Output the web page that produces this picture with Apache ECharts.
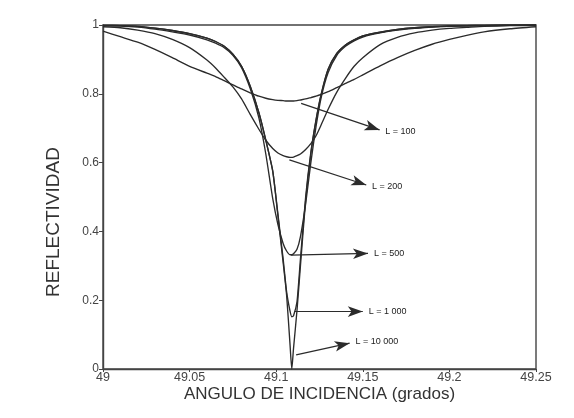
<!DOCTYPE html>
<html>
<head>
<meta charset="utf-8">
<script src="https://cdn.jsdelivr.net/npm/echarts@6/dist/echarts.min.js"></script>
<style>
html,body{margin:0;padding:0;background:#fff;}
#chart{width:574px;height:418px;}
</style>
</head>
<body>
<div id="chart"></div>
<script>
// Incidence angle (degrees) shared by all curves
const angles = [49.000, 49.010, 49.020, 49.030, 49.040, 49.050, 49.060, 49.065, 49.070, 49.075,
  49.080, 49.085, 49.090, 49.094, 49.098, 49.101, 49.104, 49.106, 49.108, 49.109,
  49.110, 49.112, 49.114, 49.117, 49.120, 49.123, 49.126, 49.130, 49.135, 49.140,
  49.145, 49.150, 49.160, 49.170, 49.180, 49.190, 49.200, 49.210, 49.220, 49.235, 49.250];

const reflL100 = [0.982, 0.966, 0.950, 0.929, 0.905, 0.880, 0.860, 0.850, 0.838, 0.826,
  0.814, 0.803, 0.793, 0.787, 0.783, 0.781, 0.780, 0.779, 0.779, 0.779,
  0.779, 0.780, 0.782, 0.785, 0.789, 0.793, 0.798, 0.806, 0.818, 0.830,
  0.842, 0.855, 0.881, 0.905, 0.926, 0.944, 0.958, 0.970, 0.980, 0.989, 0.995];

const reflL200 = [0.995, 0.992, 0.985, 0.975, 0.958, 0.934, 0.898, 0.875, 0.848, 0.820,
  0.785, 0.740, 0.697, 0.665, 0.641, 0.628, 0.620, 0.617, 0.615, 0.615,
  0.616, 0.620, 0.625, 0.638, 0.655, 0.678, 0.710, 0.755, 0.805, 0.845,
  0.880, 0.905, 0.943, 0.964, 0.977, 0.985, 0.990, 0.993, 0.996, 0.998, 0.999];

const reflL500 = [0.998, 0.997, 0.994, 0.988, 0.980, 0.971, 0.957, 0.947, 0.934, 0.912,
  0.876, 0.815, 0.730, 0.625, 0.495, 0.420, 0.365, 0.343, 0.332, 0.332,
  0.335, 0.348, 0.385, 0.480, 0.600, 0.705, 0.790, 0.862, 0.912, 0.938,
  0.954, 0.965, 0.977, 0.985, 0.990, 0.994, 0.996, 0.997, 0.998, 0.999, 1.000];

const reflL1000 = [0.999, 0.998, 0.996, 0.991, 0.984, 0.975, 0.962, 0.952, 0.938, 0.915,
  0.880, 0.822, 0.745, 0.665, 0.575, 0.450, 0.320, 0.225, 0.168, 0.152,
  0.155, 0.195, 0.320, 0.500, 0.630, 0.725, 0.800, 0.872, 0.918, 0.942,
  0.957, 0.968, 0.979, 0.987, 0.992, 0.995, 0.997, 0.998, 0.999, 1.000, 1.000];

const reflL10000 = [0.999, 0.998, 0.996, 0.991, 0.984, 0.975, 0.962, 0.952, 0.938, 0.915,
  0.880, 0.822, 0.745, 0.665, 0.575, 0.445, 0.310, 0.215, 0.070, 0.000,
  0.060, 0.170, 0.300, 0.490, 0.625, 0.722, 0.798, 0.871, 0.917, 0.942,
  0.957, 0.968, 0.979, 0.987, 0.992, 0.995, 0.997, 0.998, 0.999, 1.000, 1.000];

const curveLabels = ['L = 100', 'L = 200', 'L = 500', 'L = 1 000', 'L = 10 000'];
// Annotation arrows: start point on the curve and arrow tip (data units)
const arrowStart = [[49.1144, 0.772], [49.1076, 0.608], [49.1086, 0.331], [49.1105, 0.167], [49.1115, 0.041]];
const arrowEnd   = [[49.1597, 0.695], [49.1520, 0.535], [49.1530, 0.336], [49.1500, 0.167], [49.1424, 0.075]];

const xTicks = [49, 49.05, 49.1, 49.15, 49.2, 49.25];
const yTicks = [0, 0.2, 0.4, 0.6, 0.8, 1];

const seriesValues = [reflL100, reflL200, reflL500, reflL1000, reflL10000];
const ink = '#2b2b2b';
const FONT = '"Liberation Sans", Arial, sans-serif';

const chart = echarts.init(document.getElementById('chart'), null, {renderer: 'canvas'});

const series = seriesValues.map((vals, i) => ({
  type: 'line',
  name: curveLabels[i],
  data: angles.map((a, k) => [a, vals[k]]),
  showSymbol: false,
  smooth: 0.2,
  lineStyle: {color: ink, width: 1.35},
  itemStyle: {color: ink},
  animation: false,
  z: 2,
  markLine: {
    silent: true,
    animation: false,
    symbol: ['none', 'arrow'],
    symbolSize: [8, 15],
    lineStyle: {color: ink, width: 1.2, type: 'solid'},
    itemStyle: {color: ink},
    label: {
      show: true,
      position: 'end',
      distance: 6,
      formatter: curveLabels[i],
      color: '#222',
      fontSize: 9,
      fontFamily: FONT
    },
    data: [[{coord: arrowStart[i]}, {coord: arrowEnd[i]}]]
  }
}));

chart.setOption({
  backgroundColor: '#ffffff',
  animation: false,
  grid: {left: 103, right: 38, top: 25, bottom: 49, show: true, borderColor: '#444', borderWidth: 1.4, backgroundColor: 'transparent'},
  xAxis: {
    type: 'value',
    min: xTicks[0],
    max: xTicks[xTicks.length - 1],
    interval: 0.05,
    name: 'ANGULO DE INCIDENCIA (grados)',
    nameLocation: 'middle',
    nameGap: 17,
    nameMoveOverlap: false,
    nameTextStyle: {fontSize: 17, color: '#333', fontFamily: FONT},
    axisLine: {show: true, lineStyle: {color: '#444', width: 1.4}},
    axisTick: {show: true, length: 3, lineStyle: {color: '#444'}},
    axisLabel: {margin: 2, fontSize: 12.5, color: '#444', fontFamily: FONT,
      formatter: v => String(Math.round(v * 100) / 100)},
    splitLine: {show: false}
  },
  yAxis: {
    type: 'value',
    min: yTicks[0],
    max: yTicks[yTicks.length - 1],
    interval: 0.2,
    name: 'REFLECTIVIDAD',
    nameLocation: 'middle',
    nameGap: 40,
    nameMoveOverlap: false,
    nameTextStyle: {fontSize: 19, color: '#333', fontFamily: FONT, padding: [0, 50, 0, 0]},
    axisLine: {show: true, lineStyle: {color: '#444', width: 1.4}},
    axisTick: {show: true, length: 4, lineStyle: {color: '#444'}},
    axisLabel: {margin: 4, fontSize: 12, color: '#444', fontFamily: FONT,
      formatter: v => String(Math.round(v * 10) / 10)},
    splitLine: {show: false}
  },
  series: series
});
</script>
</body>
</html>
